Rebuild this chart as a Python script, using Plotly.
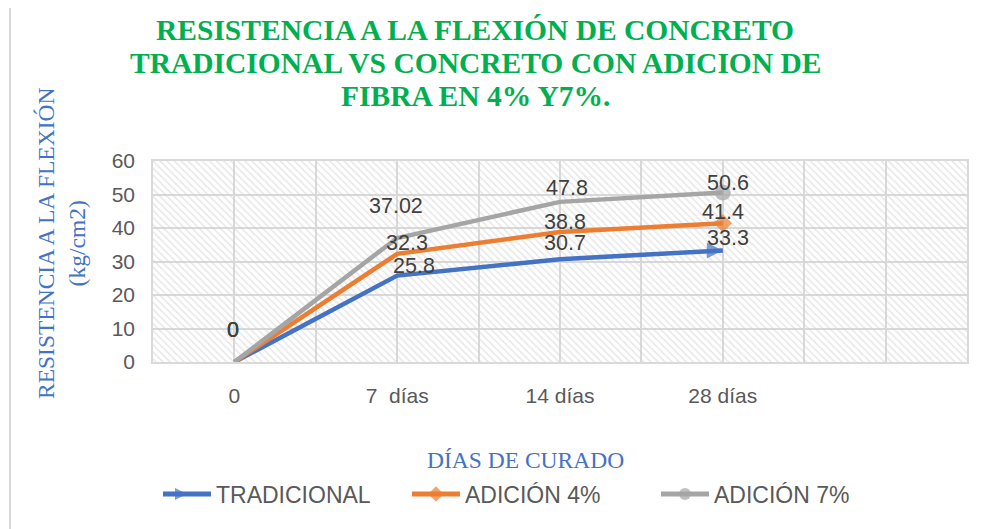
import plotly.graph_objects as go

# ---- data ----
categories = ["0", "7  días", "14 días", "28 días"]
tradicional = [0, 25.8, 30.7, 33.3]
adicion4 = [0, 32.3, 38.8, 41.4]
adicion7 = [0, 37.02, 47.8, 50.6]
y_ticks = [0, 10, 20, 30, 40, 50, 60]

series_names = ["TRADICIONAL", "ADICIÓN 4%", "ADICIÓN 7%"]
series_values = [tradicional, adicion4, adicion7]
series_colors = ["#4472C4", "#ED7D31", "#A5A5A5"]
end_symbols = ["arrow-right", "diamond", "circle"]
end_sizes = [16, 14, 16]

# label offsets (pixels) per series per point
label_offsets = [
    [(-1, 32), (17, 10), (5, 16), (5, 12)],
    [(-1, 32), (10, 11), (5, 10), (0, 11)],
    [(-1, 32), (-1, 32), (7, 14), (5, 9)],
]

W, H = 984, 529
OFF = 8  # page offset of the figure inside the browser window
# plot area in window pixels: x 153..967, y 161..362
L, T = 153 - OFF, 161 - OFF
R = W - (967 - OFF)
B = H - (362 - OFF)
PW, PH = W - L - R, H - T - B
n_slots = 5
x_range = [-0.5, n_slots - 0.5]
y_range = [0, 60]

def px(xp):
    return (xp - OFF - L) / PW

def py(yp):
    return (H - B - (yp - OFF)) / PH

fig = go.Figure()

# hatched plot-area background
fig.add_trace(go.Scatter(
    x=x_range, y=[y_range[1], y_range[1]], mode="none", fill="tozeroy",
    fillcolor="rgba(0,0,0,0)",
    fillpattern=dict(shape="\\", size=5, solidity=0.3, fgcolor="#D0D0D0",
                     bgcolor="rgba(0,0,0,0)"),
    hoverinfo="skip", showlegend=False))

xs = list(range(len(categories)))
for name, vals, col, sym, sz in zip(series_names, series_values, series_colors, end_symbols, end_sizes):
    sizes = [0] * (len(vals) - 1) + [sz]
    fig.add_trace(go.Scatter(
        x=xs, y=vals, name=name, mode="lines+markers",
        line=dict(color=col, width=4.5),
        marker=dict(symbol=sym, size=sizes, color=col, line=dict(width=0)),
    ))

annotations = []
for vals, offs in zip(series_values, label_offsets):
    for i, v in enumerate(vals):
        dx, dy = offs[i]
        annotations.append(dict(
            x=xs[i], y=v, xref="x", yref="y", text="%g" % v, showarrow=False,
            xshift=dx, yshift=dy, xanchor="center", yanchor="middle",
            font=dict(family="Liberation Sans, Arial", size=21.5, color="#404040")))

# title lines
title_lines = ["RESISTENCIA A LA FLEXIÓN DE CONCRETO",
               "TRADICIONAL VS CONCRETO CON ADICION DE",
               "FIBRA EN 4% Y7%."]
for line, yc in zip(title_lines, [30, 63, 96]):
    annotations.append(dict(
        x=px(475), y=py(yc), xref="paper", yref="paper", text="<b>" + line + "</b>",
        showarrow=False, xanchor="center", yanchor="middle",
        font=dict(family="Liberation Serif, Times New Roman", size=29.5, color="#00B050")))

# axis titles
annotations.append(dict(
    x=px(525), y=py(460), xref="paper", yref="paper", text="DÍAS DE CURADO",
    showarrow=False, xanchor="center", yanchor="middle",
    font=dict(family="Liberation Serif, Times New Roman", size=23.5, color="#4472C4")))
annotations.append(dict(
    x=px(61), y=py(244), xref="paper", yref="paper",
    text="RESISTENCIA A LA FLEXIÓN<br>(kg/cm2)", textangle=-90,
    showarrow=False, xanchor="center", yanchor="middle", align="center",
    font=dict(family="Liberation Serif, Times New Roman", size=23.5, color="#4472C4")))

grid_col = "#D9D9D9"
fig.update_layout(
    width=W, height=H,
    margin=dict(l=L, r=R, t=T, b=B),
    paper_bgcolor="white", plot_bgcolor="white",
    showlegend=True,
    legend=dict(orientation="h", x=px(158), xanchor="left", y=py(494), yanchor="middle",
                font=dict(family="Liberation Sans, Arial", size=23, color="#595959"),
                itemsizing="constant", itemwidth=48, entrywidth=186,
                bgcolor="rgba(0,0,0,0)"),
    annotations=annotations,
    shapes=[dict(type="rect", xref="paper", yref="paper",
                 x0=px(10), x1=px(W + 20), y0=py(H + 20), y1=py(6),
                 line=dict(color="#D9D9D9", width=2), layer="below")],
    xaxis=dict(range=x_range, tickmode="array", tickvals=list(range(n_slots)),
               ticktext=categories + [""] * (n_slots - len(categories)),
               showgrid=True, gridcolor=grid_col, gridwidth=1.5,
               minor=dict(tickmode="array",
                          tickvals=[k + 0.5 for k in range(-1, n_slots)],
                          showgrid=True, gridcolor=grid_col, gridwidth=1.5, ticklen=0),
               showline=True, linecolor=grid_col, linewidth=1.5, mirror=True,
               zeroline=False, ticks="", ticklabelstandoff=14,
               tickfont=dict(family="Liberation Sans, Arial", size=21, color="#595959")),
    yaxis=dict(range=y_range, tickmode="array", tickvals=y_ticks,
               showgrid=True, gridcolor=grid_col, gridwidth=1.5,
               showline=True, linecolor=grid_col, linewidth=1.5, mirror=True,
               zeroline=False, ticks="", ticklabelstandoff=12,
               tickfont=dict(family="Liberation Sans, Arial", size=21, color="#595959")),
)

fig.write_html("out.html")
